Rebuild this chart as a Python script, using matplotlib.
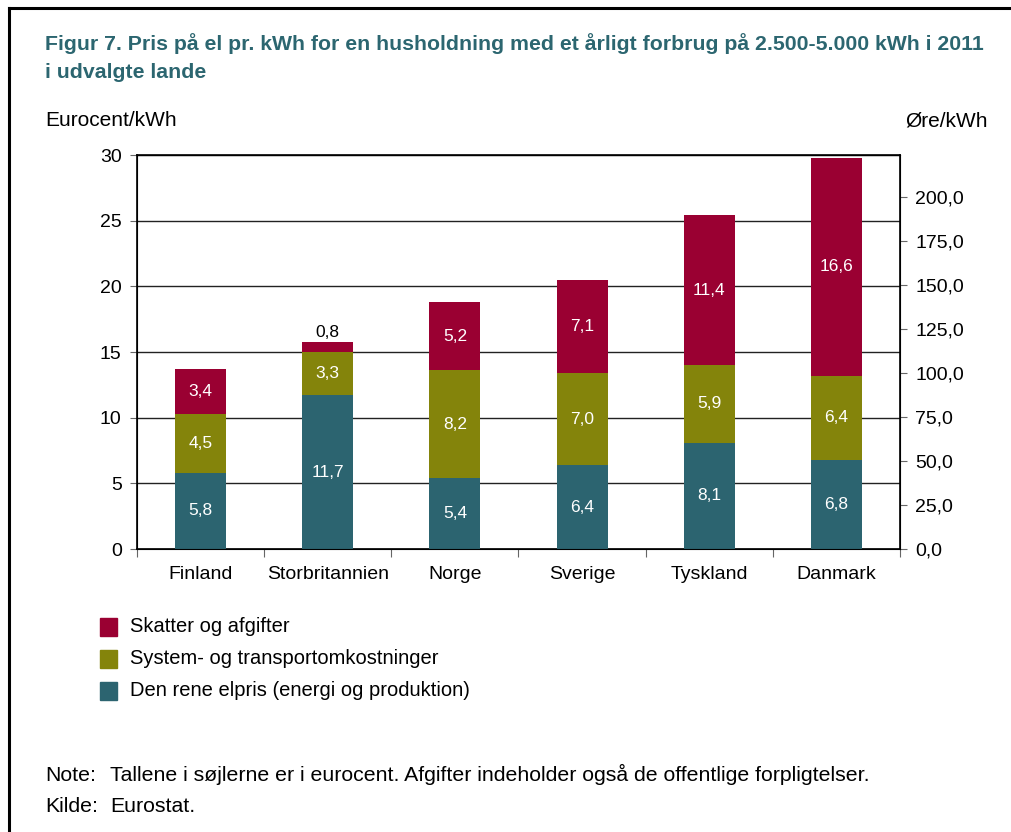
import numpy as np
import matplotlib.pyplot as plt
from matplotlib.lines import Line2D
from matplotlib.patches import Rectangle

plt.rcParams['font.family'] = ['Liberation Sans', 'DejaVu Sans']

# Data (eurocent per kWh, 2011)
lande = ['Finland', 'Storbritannien', 'Norge', 'Sverige', 'Tyskland', 'Danmark']
elpris = [5.8, 11.7, 5.4, 6.4, 8.1, 6.8]
system = [4.5, 3.3, 8.2, 7.0, 5.9, 6.4]
skatter = [3.4, 0.8, 5.2, 7.1, 11.4, 16.6]
eur_to_ore = 7.46

c_red = '#9A0032'
c_olive = '#84840B'
c_teal = '#2C6470'
c_title = '#2C6670'

fig = plt.figure(figsize=(10.11, 8.32), dpi=100)
ax = fig.add_axes([0.1355, 0.3401, 0.7547, 0.4736])

x = np.arange(len(lande))
w = 0.4
ax.bar(x, elpris, w, color=c_teal, zorder=3)
ax.bar(x, system, w, bottom=elpris, color=c_olive, zorder=3)
bottom3 = np.array(elpris) + np.array(system)
ax.bar(x, skatter, w, bottom=bottom3, color=c_red, zorder=3)

def fmt(v):
    return f'{v:.1f}'.replace('.', ',')

for i in range(len(lande)):
    ax.text(x[i], elpris[i] / 2, fmt(elpris[i]), ha='center', va='center',
            color='white', fontsize=12.5, zorder=4)
    ax.text(x[i], elpris[i] + system[i] / 2, fmt(system[i]), ha='center',
            va='center', color='white', fontsize=12.5, zorder=4)
    if skatter[i] < 2:
        ax.text(x[i], bottom3[i] + skatter[i] + 0.15, fmt(skatter[i]),
                ha='center', va='bottom', color='black', fontsize=12.5, zorder=4)
    else:
        ax.text(x[i], bottom3[i] + skatter[i] / 2, fmt(skatter[i]), ha='center',
                va='center', color='white', fontsize=12.5, zorder=4)

ax.set_xlim(-0.5, len(lande) - 0.5)
ax.set_ylim(0, 30)
ax.set_yticks(range(0, 31, 5))
ax.yaxis.grid(True, color='#222222', lw=1)
ax.set_axisbelow(True)
ax.tick_params(axis='y', labelsize=14, length=5, color='#666666', pad=6)
ax.set_xticks(np.arange(len(lande) + 1) - 0.5)
ax.set_xticklabels([])
ax.set_xticks(x, minor=True)
ax.set_xticklabels(lande, minor=True, fontsize=14)
ax.tick_params(axis='x', which='major', length=6, color='#666666')
ax.tick_params(axis='x', which='minor', length=0, pad=12)
for s in ax.spines.values():
    s.set_linewidth(1.2)

ax2 = ax.twinx()
ax2.set_ylim(0, 30 * eur_to_ore)
ax2.set_yticks(np.arange(0, 201, 25))
ax2.set_yticklabels([fmt(v) for v in np.arange(0, 201, 25)])
ax2.tick_params(axis='y', labelsize=14, length=5, color='#666666', pad=6)

fig.text(0.0445, 0.940, 'Figur 7. Pris på el pr. kWh for en husholdning med et årligt forbrug på 2.500-5.000 kWh i 2011',
         fontsize=15.3, fontweight='bold', color=c_title, va='baseline')
fig.text(0.0445, 0.906, 'i udvalgte lande', fontsize=15.3, fontweight='bold',
         color=c_title, va='baseline')
fig.text(0.0445, 0.855, 'Eurocent/kWh', fontsize=15, va='center')
fig.text(0.977, 0.855, 'Øre/kWh', fontsize=15, va='center', ha='right')

# legend
leg_items = [('Skatter og afgifter', c_red),
             ('System- og transportomkostninger', c_olive),
             ('Den rene elpris (energi og produktion)', c_teal)]
for k, (lab, col) in enumerate(leg_items):
    yc = 1 - (627 + 32 * k) / 832
    fig.patches.append(Rectangle((100 / 1011, yc - 9 / 832), 17 / 1011, 18 / 832,
                                 transform=fig.transFigure, color=col))
    fig.text(130 / 1011, yc, lab, fontsize=14.5, va='center')

y_note = 1 - 781 / 832
y_kilde = 1 - 812 / 832
fig.text(0.0445, y_note, 'Note:', fontsize=15.3, va='baseline')
fig.text(0.109, y_note, 'Tallene i søjlerne er i eurocent. Afgifter indeholder også de offentlige forpligtelser.',
         fontsize=15.3, va='baseline')
fig.text(0.0445, y_kilde, 'Kilde:', fontsize=15.3, va='baseline')
fig.text(0.109, y_kilde, 'Eurostat.', fontsize=15.3, va='baseline')

# frame
fig.add_artist(Line2D([8.5 / 1011, 1], [1 - 8 / 832, 1 - 8 / 832], color='black', lw=2.2))
fig.add_artist(Line2D([8.5 / 1011, 8.5 / 1011], [0, 1 - 8 / 832], color='black', lw=2.2))

fig.savefig('out.png', dpi=100)
